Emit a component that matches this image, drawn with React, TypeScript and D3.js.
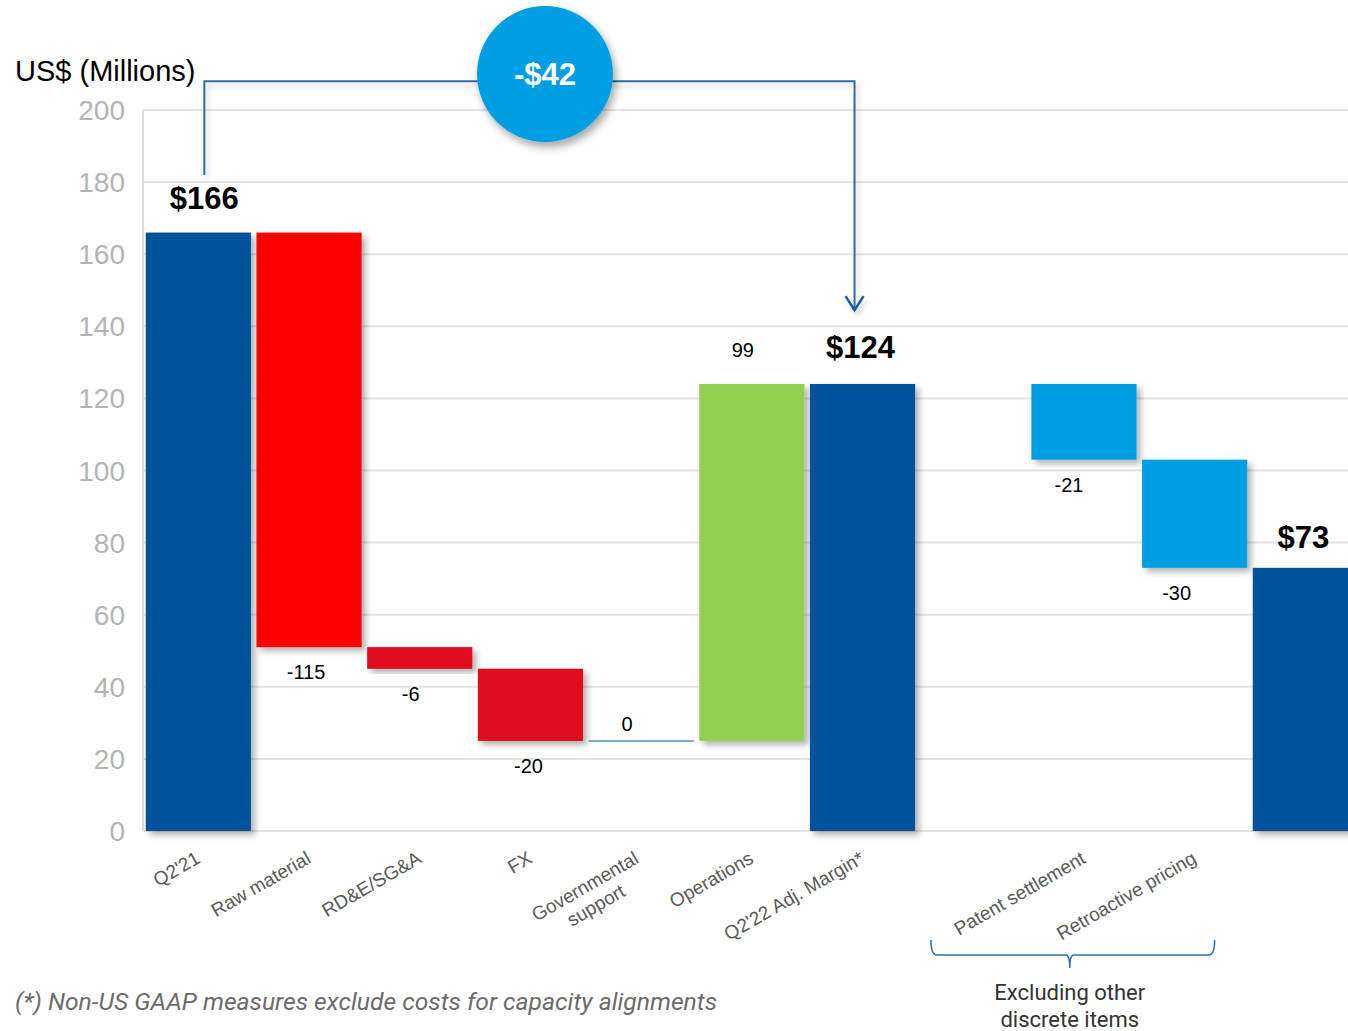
import React from "react";
import * as d3 from "d3";

// ---- data ----
const categoryKeys = ["q221", "raw", "rde", "fx", "gov", "ops", "q222", "gap", "patent", "retro", "final"];
const categoryLabels = [
  ["Q2'21"],
  ["Raw material"],
  ["RD&E/SG&A"],
  ["FX"],
  ["Governmental", "support"],
  ["Operations"],
  ["Q2'22 Adj. Margin*"],
  [],
  ["Patent settlement"],
  ["Retroactive pricing"],
  [],
];
const categoryKinds = ["total", "delta", "delta", "delta", "delta", "delta", "total", "gap", "delta", "delta", "total"];
const categoryValues = [166, -115, -6, -20, 0, 99, 124, 0, -21, -30, 73];
const valueLabels = ["$166", "-115", "-6", "-20", "0", "99", "$124", "", "-21", "-30", "$73"];
const yTicks = [0, 20, 40, 60, 80, 100, 120, 140, 160, 180, 200];
const bubbleText = "-$42";
const unitLabel = "US$ (Millions)";
const bracketLabel = ["Excluding other", "discrete items"];
const footnote = "(*) Non-US GAAP measures exclude costs for capacity alignments";

// ---- styles ----
const fillFor: Record<string, string> = {
  q221: "#00539B",
  raw: "#FF0000",
  rde: "#E2071F",
  fx: "#E2071F",
  gov: "#7FA7CF",
  ops: "#92D050",
  q222: "#00539B",
  patent: "#009FE3",
  retro: "#009FE3",
  final: "#00539B",
};
const labelNudge: Record<string, number> = { raw: -3, rde: -9, fx: -2, gov: -14, ops: -9, q222: -2, patent: -15, retro: -18, q221: 6, final: -2 };
const labelLift: Record<string, number> = { q221: 24, q222: 26, final: 20 };

const W = 1348;
const H = 1031;

export default function App() {
  const x = d3.scaleBand<string>().domain(categoryKeys).range([143, 143 + 11 * 110.7]).paddingInner(0.05).paddingOuter(0.025);
  const y = d3.scaleLinear().domain([0, 200]).range([831, 110]);

  let running = 0;
  const bars = categoryKeys.map((k, i) => {
    const kind = categoryKinds[i];
    const v = categoryValues[i];
    let y0 = 0, y1 = 0;
    if (kind === "total") {
      y0 = 0; y1 = v; running = v;
    } else if (kind === "delta") {
      y0 = running; y1 = running + v; running = y1;
    }
    return { k, i, kind, v, y0, y1 };
  });

  const bw = x.bandwidth();
  const cx = (k: string) => (x(k) as number) + bw / 2;

  const font = "'Liberation Sans', Arial, sans-serif";

  const startX = cx("q221") + 6;
  const endX = cx("q222") - 8;
  const topY = y(208);
  const arrowY = y(144.5);

  const braceL = cx("patent") - 153;
  const braceR = cx("retro") + 20;
  const braceMid = (braceL + braceR) / 2 - 3;
  const braceY = 955;

  return (
    <div style={{ position: "absolute", left: 0, top: 0 }}>
      <svg width={W} height={H} style={{ display: "block", background: "#fff" }}>
        <defs>
          <filter id="shadow" x="-10%" y="-10%" width="130%" height="130%">
            <feDropShadow dx="4" dy="4" stdDeviation="3" floodColor="#000" floodOpacity="0.3" />
          </filter>
          <filter id="shadowLine" x="-10%" y="-10%" width="130%" height="130%">
            <feDropShadow dx="3" dy="4" stdDeviation="2.5" floodColor="#000" floodOpacity="0.18" />
          </filter>
          <filter id="shadowCircle" x="-30%" y="-30%" width="160%" height="160%">
            <feDropShadow dx="3" dy="5" stdDeviation="4" floodColor="#000" floodOpacity="0.35" />
          </filter>
        </defs>

        {yTicks.map((t) => (
          <line key={t} x1={143} x2={W} y1={y(t)} y2={y(t)} stroke="#e3e3e3" strokeWidth={2} />
        ))}
        <line x1={143} x2={143} y1={y(200)} y2={y(0)} stroke="#dcdcdc" strokeWidth={2} />
        {yTicks.map((t) => (
          <text key={"t" + t} x={125} y={y(t) + 10} textAnchor="end" fontFamily={font} fontSize={28} fill="#b4b4b4">
            {t}
          </text>
        ))}

        <text x={15} y={81} fontFamily={font} fontSize={29} fill="#000">
          {unitLabel}
        </text>

        {bars.map((b) => {
          if (b.kind === "gap") return null;
          if (b.v === 0 && b.kind === "delta") {
            return (
              <line key={b.k} x1={x(b.k) as number} x2={(x(b.k) as number) + bw} y1={y(b.y0)} y2={y(b.y0)} stroke={fillFor[b.k]} strokeWidth={2} />
            );
          }
          const top = y(Math.max(b.y0, b.y1));
          const bot = y(Math.min(b.y0, b.y1));
          return (
            <rect key={b.k} x={x(b.k) as number} y={top} width={bw} height={bot - top} fill={fillFor[b.k]} filter="url(#shadow)" />
          );
        })}

        {bars.map((b) => {
          if (b.kind === "gap") return null;
          const lx = cx(b.k) + (labelNudge[b.k] || 0);
          if (b.kind === "total") {
            return (
              <text key={"v" + b.k} x={lx} y={y(b.y1) - (labelLift[b.k] || 24)} textAnchor="middle" fontFamily={font} fontWeight="bold" fontSize={31} fill="#000">
                {valueLabels[b.i]}
              </text>
            );
          }
          const above = b.v >= 0;
          const ly = above ? y(b.y1) - 27 + (b.v === 0 ? 17 : 0) : y(b.y1) + 32;
          return (
            <text key={"v" + b.k} x={lx} y={ly} textAnchor="middle" fontFamily={font} fontSize={20} fill="#000">
              {valueLabels[b.i]}
            </text>
          );
        })}

        {bars.map((b) => {
          const lines = categoryLabels[b.i];
          if (!lines.length) return null;
          const ax = cx(b.k) + 3;
          const ay = 862;
          if (lines.length === 1) {
            return (
              <text key={"x" + b.k} transform={`translate(${ax},${ay}) rotate(-30)`} textAnchor="end" fontFamily={font} fontSize={19} fill="#595959">
                {lines[0]}
              </text>
            );
          }
          return (
            <text key={"x" + b.k} transform={`translate(${ax - 4},${ay}) rotate(-30)`} textAnchor="middle" fontFamily={font} fontSize={19} fill="#595959">
              <tspan x={-60} dy={0}>{lines[0]}</tspan>
              <tspan x={-60} dy={22}>{lines[1]}</tspan>
            </text>
          );
        })}

        <g filter="url(#shadowLine)">
          <path d={`M${startX},${y(182)} V${topY} H${endX} V${arrowY}`} fill="none" stroke="#2F6CAA" strokeWidth={2} />
          <path d={`M${endX - 9},${arrowY - 14} L${endX},${arrowY} L${endX + 9},${arrowY - 14}`} fill="none" stroke="#1F5A9C" strokeWidth={2.5} />
        </g>
        <circle cx={545} cy={74} r={68} fill="#009FE3" filter="url(#shadowCircle)" />
        <text x={545} y={85} textAnchor="middle" fontFamily={font} fontWeight="bold" fontSize={31} fill="#fff">
          {bubbleText}
        </text>

        <path
          d={`M${braceL},${braceY - 15} Q${braceL},${braceY} ${braceL + 6},${braceY} H${braceMid - 4} Q${braceMid},${braceY} ${braceMid},${braceY + 13} Q${braceMid},${braceY} ${braceMid + 4},${braceY} H${braceR - 6} Q${braceR},${braceY} ${braceR},${braceY - 15}`}
          fill="none"
          stroke="#2F6CAA"
          strokeWidth={1.5}
        />
        <text x={braceMid} y={1000} textAnchor="middle" fontFamily="Roboto, sans-serif" fontSize={22} fill="#333">
          {bracketLabel[0]}
        </text>
        <text x={braceMid} y={1027} textAnchor="middle" fontFamily="Roboto, sans-serif" fontSize={22} fill="#333">
          {bracketLabel[1]}
        </text>

        <text x={15} y={1010} fontFamily="Roboto, sans-serif" fontStyle="italic" fontSize={23} textLength={702} lengthAdjust="spacingAndGlyphs" fill="#6b6b6b">
          {footnote}
        </text>
      </svg>
    </div>
  );
}
